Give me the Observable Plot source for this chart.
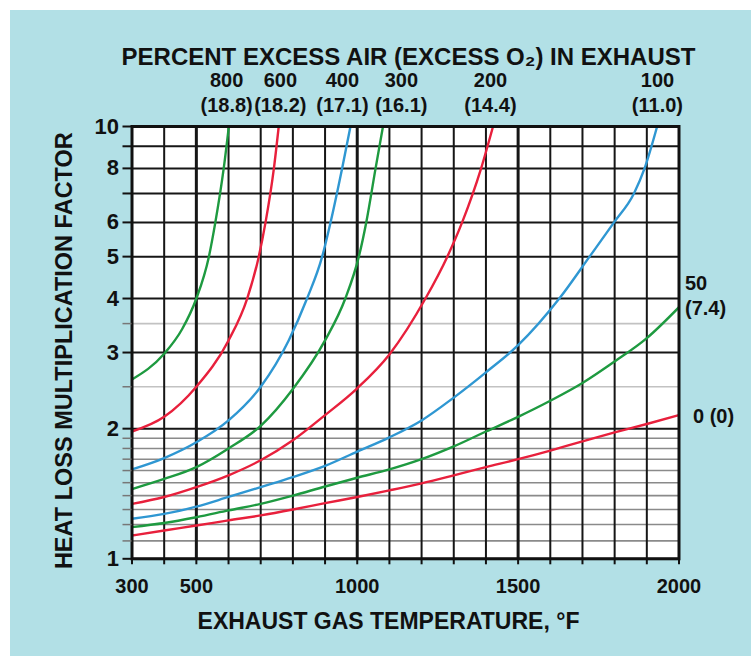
<!DOCTYPE html>
<html><head><meta charset="utf-8">
<script src="https://cdn.jsdelivr.net/npm/d3@7"></script>
<script src="https://cdn.jsdelivr.net/npm/@observablehq/plot@0.6"></script>
<style>
html,body{margin:0;padding:0;background:#fff;}
#wrap{position:relative;width:751px;height:656px;overflow:hidden;}
#bg{position:absolute;left:10px;top:10px;right:0;bottom:0;background:#b2e0e6;}
#chart{position:absolute;left:0;top:0;}
</style></head><body>
<div id="wrap"><div id="bg"></div><div id="chart"></div></div>
<script>
// ---- axis ticks ----
const tempGrid = d3.range(300, 2001, 100);
const tempLabels = [300, 500, 1000, 1500, 2000];
const tempHeavy = [500, 1000, 1500];
const factorMajor = [1, 2, 3, 4, 5, 6, 7, 8, 9, 10];
const factorLabels = [1, 2, 3, 4, 5, 6, 8, 10];
const factorFine = [1.1, 1.2, 1.3, 1.4, 1.5, 1.6, 1.7, 1.8, 1.9];
const factorFaint = [2.5, 3.5];

// ---- series ----
const excessAir = ["800", "600", "400", "300", "200", "100", "50", "0"];
const excessO2 = ["18.8", "18.2", "17.1", "16.1", "14.4", "11.0", "7.4", "0"];
const seriesColors = ["#1e9a40", "#e8203c", "#2f97d2", "#1e9a40", "#e8203c", "#2f97d2", "#1e9a40", "#e8203c"];

const t800 = [300, 400, 456, 500, 539, 559, 585, 601];
const f800 = [2.6, 2.98, 3.4, 4.0, 5.0, 6.0, 8.0, 10];
const t600 = [300, 400, 500, 600, 658, 694, 715, 741, 756];
const f600 = [1.97, 2.13, 2.5, 3.2, 4, 5, 6, 8, 10];
const t400 = [300, 400, 500, 600, 700, 787, 844, 891, 917, 953, 979];
const f400 = [1.61, 1.71, 1.86, 2.09, 2.5, 3.2, 4, 5, 6, 8, 10];
const t300 = [300, 400, 500, 600, 700, 800, 900, 963, 1005, 1028, 1057, 1080];
const f300 = [1.45, 1.53, 1.63, 1.8, 2.03, 2.47, 3.2, 4, 5, 6, 8, 10];
const t200 = [300, 400, 500, 600, 700, 800, 900, 1000, 1100, 1212, 1280, 1326, 1385, 1422];
const f200 = [1.34, 1.39, 1.465, 1.56, 1.69, 1.88, 2.15, 2.48, 2.97, 4, 5, 6, 8, 10];
const t100 = [300, 400, 500, 600, 700, 800, 900, 1000, 1100, 1200, 1300, 1400, 1500, 1628, 1722, 1798, 1860, 1893, 1932];
const f100 = [1.238, 1.27, 1.32, 1.39, 1.465, 1.545, 1.64, 1.77, 1.91, 2.09, 2.36, 2.7, 3.12, 4, 5, 6, 7, 8, 10];
const t50 = [300, 400, 500, 600, 700, 800, 900, 1000, 1100, 1200, 1300, 1400, 1500, 1600, 1700, 1800, 1900, 2000];
const f50 = [1.184, 1.21, 1.248, 1.294, 1.34, 1.40, 1.47, 1.54, 1.61, 1.70, 1.82, 1.97, 2.13, 2.32, 2.55, 2.86, 3.24, 3.82];
const t0 = [300, 400, 500, 600, 700, 800, 900, 1000, 1100, 1200, 1300, 1400, 1500, 1600, 1700, 1800, 1900, 2000];
const f0 = [1.132, 1.163, 1.194, 1.227, 1.26, 1.30, 1.345, 1.39, 1.44, 1.495, 1.56, 1.63, 1.70, 1.78, 1.87, 1.96, 2.05, 2.15];

// temperatures at which the top labels sit (in °F)
const topLabelTemp = [594, 761, 954, 1137, 1414, 1933];

// ---- texts ----
const titleTop = "PERCENT EXCESS AIR (EXCESS O\u2082) IN EXHAUST";
const titleX = "EXHAUST GAS TEMPERATURE, \u00B0F";
const titleY = "HEAT LOSS MULTIPLICATION FACTOR";

const temps = [t800, t600, t400, t300, t200, t100, t50, t0];
const factors = [f800, f600, f400, f300, f200, f100, f50, f0];
const rows = excessAir.flatMap((s, i) => temps[i].map((t, j) => ({series: s, t, f: factors[i][j]})));
const topLabels = topLabelTemp.map((t, i) => ({t, label: `${excessAir[i]}\n(${excessO2[i]})`}));
const end50 = {t: t50[t50.length - 1], f: f50[f50.length - 1], label: `${excessAir[6]}\n(${excessO2[6]})`};
const end0 = {t: t0[t0.length - 1], f: f0[f0.length - 1], label: `${excessAir[7]} (${excessO2[7]})`};

const font = "'Liberation Sans',Arial,Helvetica,sans-serif";

const chart = Plot.plot({
  width: 751, height: 656,
  marginLeft: 131.5, marginRight: 72.5, marginTop: 126, marginBottom: 97.7,
  style: {background: "transparent", fontFamily: font, color: "#111", overflow: "visible"},
  x: {domain: [300, 2000]},
  y: {type: "log", domain: [1, 10]},
  color: {domain: excessAir, range: seriesColors},
  marks: [
    Plot.frame({fill: "white", stroke: "none"}),
    Plot.ruleY(factorFine, {stroke: "#8a8a8a", strokeWidth: 1.6}),
    Plot.ruleY(factorFaint, {stroke: "#c2c2c2", strokeWidth: 1.6}),
    Plot.ruleY(factorMajor, {stroke: "#161616", strokeWidth: 2}),
    Plot.ruleX(tempGrid, {stroke: "#161616", strokeWidth: d => tempHeavy.includes(d) ? 3 : 2}),
    Plot.line(rows, {x: "t", y: "f", z: "series", stroke: "series", strokeWidth: 2.4, curve: "monotone-x", clip: true}),
    Plot.frame({stroke: "#111", strokeWidth: 3}),
    Plot.axisY(factorMajor, {tickSize: 9, tickPadding: 4, stroke: "#111", strokeWidth: 2, fontSize: 22, fontWeight: "bold",
      tickFormat: d => factorLabels.includes(d) ? String(d) : "", label: null}),
    Plot.axisY(factorFine.concat(factorFaint), {tickSize: 9, stroke: "#777", strokeWidth: 1.5, tickFormat: () => "", label: null}),
    Plot.axisX(tempGrid, {tickSize: 6, tickPadding: 14, stroke: "#111", strokeWidth: 2, fontSize: 20, fontWeight: "bold",
      tickFormat: d => tempLabels.includes(d) ? String(d) : "", label: null}),
    Plot.text(topLabels, {x: "t", y: () => 10, text: "label", lineAnchor: "bottom", dy: -15, lineHeight: 1.25,
      fontSize: 20, fontWeight: "bold"}),
    Plot.text([end50], {x: "t", y: "f", text: "label", textAnchor: "start", lineAnchor: "bottom", dx: 6, dy: 8, lineHeight: 1.25,
      fontSize: 20, fontWeight: "bold"}),
    Plot.text([end0], {x: "t", y: "f", text: "label", textAnchor: "start", dx: 14, dy: 2,
      fontSize: 20, fontWeight: "bold"}),
    Plot.text([titleTop], {frameAnchor: "top", dx: 3, dy: -79, fontSize: 24, fontWeight: "bold"}),
    Plot.text([titleX], {frameAnchor: "bottom", dx: -17, dy: 70, fontSize: 23, fontWeight: "bold"}),
    Plot.text([titleY], {frameAnchor: "left", textAnchor: "middle", rotate: -90, dx: -68, dy: 8, fontSize: 23.5, fontWeight: "bold"})
  ]
});
document.getElementById("chart").appendChild(chart);
</script>
</body></html>
